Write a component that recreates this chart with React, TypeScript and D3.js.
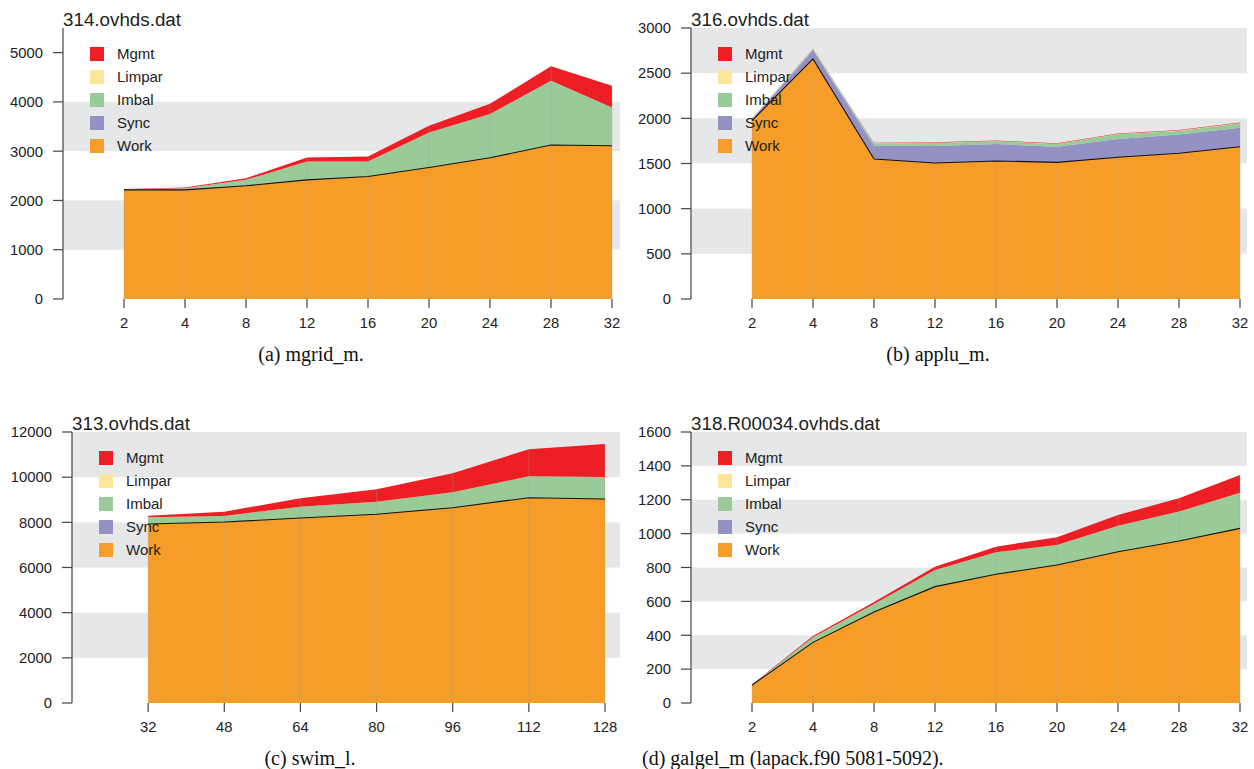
import React from 'react';
import * as d3 from 'd3';

// series order, bottom to top
const keys = ['Work', 'Sync', 'Imbal', 'Limpar', 'Mgmt'];
const colors: Record<string, string> = {
  Mgmt: '#ED1F24',
  Limpar: '#FDE69A',
  Imbal: '#98CB98',
  Sync: '#9491C5',
  Work: '#F69C29',
};
const legendOrder = ['Mgmt', 'Limpar', 'Imbal', 'Sync', 'Work'];

// (a) mgrid_m
const mgridX = ['2', '4', '8', '12', '16', '20', '24', '28', '32'];
const mgridWork = [2215, 2215, 2297, 2418, 2486, 2669, 2866, 3124, 3110];
const mgridSync = [0, 0, 0, 0, 0, 0, 0, 0, 0];
const mgridImbal = [10, 35, 121, 373, 305, 711, 888, 1307, 778];
const mgridLimpar = [0, 0, 0, 0, 0, 0, 0, 0, 0];
const mgridMgmt = [10, 15, 35, 81, 101, 136, 209, 291, 441];

// (b) applu_m
const appluX = ['2', '4', '8', '12', '16', '20', '24', '28', '32'];
const appluWork = [1975, 2657, 1550, 1506, 1528, 1513, 1569, 1613, 1686];
const appluSync = [15, 100, 147, 188, 188, 173, 202, 207, 210];
const appluImbal = [5, 8, 26, 33, 30, 30, 52, 40, 49];
const appluLimpar = [2, 2, 3, 3, 3, 3, 4, 4, 4];
const appluMgmt = [3, 3, 5, 5, 6, 5, 6, 6, 6];

// (c) swim_l
const swimX = ['32', '48', '64', '80', '96', '112', '128'];
const swimWork = [7926, 8015, 8192, 8355, 8648, 9091, 9033];
const swimSync = [0, 0, 0, 0, 0, 0, 0];
const swimImbal = [296, 266, 500, 559, 682, 947, 974];
const swimLimpar = [0, 0, 0, 0, 0, 0, 0];
const swimMgmt = [72, 190, 372, 549, 841, 1196, 1462];

// (d) galgel_m
const galgelX = ['2', '4', '8', '12', '16', '20', '24', '28', '32'];
const galgelWork = [106, 358, 537, 687, 760, 815, 893, 956, 1031];
const galgelSync = [0, 0, 0, 0, 0, 0, 0, 0, 0];
const galgelImbal = [2, 30, 48, 98, 130, 118, 154, 174, 211];
const galgelLimpar = [0, 0, 0, 0, 0, 0, 0, 0, 0];
const galgelMgmt = [1, 8, 11, 20, 33, 45, 63, 79, 104];

type Panel = {
  title: string;
  caption: string;
  captionX: number;
  captionAnchor: string;
  x: string[];
  series: number[][];
  yMax: number;
  yStep: number;
  tickMax: number;
  axisX: number;
  lastX: number;
  right: number;
  top: number;
  bottom: number;
};

const panels: Panel[] = [
  {
    title: '314.ovhds.dat', caption: '(a) mgrid_m.', captionX: 311, captionAnchor: 'middle',
    x: mgridX, series: [mgridWork, mgridSync, mgridImbal, mgridLimpar, mgridMgmt],
    yMax: 5500, yStep: 1000, tickMax: 5000,
    axisX: 63, lastX: 612, right: 620, top: 28, bottom: 299,
  },
  {
    title: '316.ovhds.dat', caption: '(b) applu_m.', captionX: 938, captionAnchor: 'middle',
    x: appluX, series: [appluWork, appluSync, appluImbal, appluLimpar, appluMgmt],
    yMax: 3000, yStep: 500, tickMax: 3000,
    axisX: 691, lastX: 1240, right: 1247, top: 28, bottom: 299,
  },
  {
    title: '313.ovhds.dat', caption: '(c) swim_l.', captionX: 310, captionAnchor: 'middle',
    x: swimX, series: [swimWork, swimSync, swimImbal, swimLimpar, swimMgmt],
    yMax: 12000, yStep: 2000, tickMax: 12000,
    axisX: 72, lastX: 605, right: 620, top: 432, bottom: 703,
  },
  {
    title: '318.R00034.ovhds.dat', caption: '(d) galgel_m (lapack.f90 5081-5092).', captionX: 642, captionAnchor: 'start',
    x: galgelX, series: [galgelWork, galgelSync, galgelImbal, galgelLimpar, galgelMgmt],
    yMax: 1600, yStep: 200, tickMax: 1600,
    axisX: 691, lastX: 1240, right: 1247, top: 432, bottom: 703,
  },
];

const sans = '"Liberation Sans", Arial, Helvetica, sans-serif';
const serif = '"Liberation Serif", "Times New Roman", serif';

const StackPanel: React.FC<{ p: Panel }> = ({ p }) => {
  const n = p.x.length;
  const x = d3.scaleLinear().domain([0, n]).range([p.axisX, p.lastX]);
  const y = d3.scaleLinear().domain([0, p.yMax]).range([p.bottom, p.top]);

  const rows = p.x.map((_, i) => {
    const r: Record<string, number> = { i };
    keys.forEach((k, j) => (r[k] = p.series[j][i]));
    return r;
  });
  const stacked = d3.stack<Record<string, number>>().keys(keys)(rows);

  const area = d3.area<d3.SeriesPoint<Record<string, number>>>()
    .x((d) => x(d.data.i + 1))
    .y0((d) => y(d[0]))
    .y1((d) => y(d[1]));
  const workLine = d3.line<d3.SeriesPoint<Record<string, number>>>()
    .x((d) => x(d.data.i + 1))
    .y((d) => y(d[1]));

  const ticks = d3.range(0, p.tickMax + 1, p.yStep);
  const bands = ticks.slice(0, -1).filter((_, i) => i % 2 === 1);
  const topStack = stacked[stacked.length - 1];

  return (
    <g>
      {bands.map((b) => (
        <rect key={b} x={p.axisX} width={p.right - p.axisX}
          y={y(b + p.yStep)} height={y(b) - y(b + p.yStep)} fill="#E6E7E8" />
      ))}
      {stacked.map((s) => (
        <path key={s.key} d={area(s) || ''} fill={colors[s.key]} />
      ))}
      {topStack.map((d) => (
        <line key={d.data.i} x1={x(d.data.i + 1)} x2={x(d.data.i + 1)}
          y1={p.bottom} y2={y(d[1])} stroke="#a0a0a0" strokeOpacity={0.3} strokeWidth={1} />
      ))}
      <path d={workLine(stacked[0]) || ''} fill="none" stroke="#111" strokeWidth={1.1} />

      {/* y axis */}
      <line x1={p.axisX} x2={p.axisX} y1={p.top} y2={p.bottom} stroke="#444" strokeWidth={1.2} />
      {ticks.map((t) => (
        <g key={t}>
          <line x1={p.axisX - 10} x2={p.axisX} y1={y(t)} y2={y(t)} stroke="#444" strokeWidth={1.2} />
          <text x={p.axisX - 20} y={y(t)} dy="0.36em" textAnchor="end"
            fontFamily={sans} fontSize={14.8} fill="#222">{t}</text>
        </g>
      ))}

      {/* x axis ticks */}
      {p.x.map((lab, i) => (
        <g key={lab}>
          <line x1={x(i + 1)} x2={x(i + 1)} y1={p.bottom} y2={p.bottom + 9} stroke="#444" strokeWidth={1.2} />
          <text x={x(i + 1)} y={p.bottom + 29} textAnchor="middle"
            fontFamily={sans} fontSize={14.8} fill="#222">{lab}</text>
        </g>
      ))}

      <text x={p.axisX} y={p.top - 2} fontFamily={sans} fontSize={18.8} fill="#222">{p.title}</text>

      {/* legend */}
      {legendOrder.map((k, i) => (
        <g key={k}>
          <rect x={p.axisX + 27} y={p.top + 19 + i * 23} width={14} height={14} fill={colors[k]} />
          <text x={p.axisX + 54} y={p.top + 26 + i * 23} dy="0.36em"
            fontFamily={sans} fontSize={15} fill="#222">{k}</text>
        </g>
      ))}

      <text x={p.captionX} y={p.bottom + 62} textAnchor={p.captionAnchor as any}
        fontFamily={serif} fontSize={20} fill="#111">{p.caption}</text>
    </g>
  );
};

const App: React.FC = () => (
  <svg width={1254} height={769} style={{ position: 'absolute', left: 0, top: 0, background: '#fff' }}>
    {panels.map((p) => (
      <StackPanel key={p.title} p={p} />
    ))}
  </svg>
);

export default App;
